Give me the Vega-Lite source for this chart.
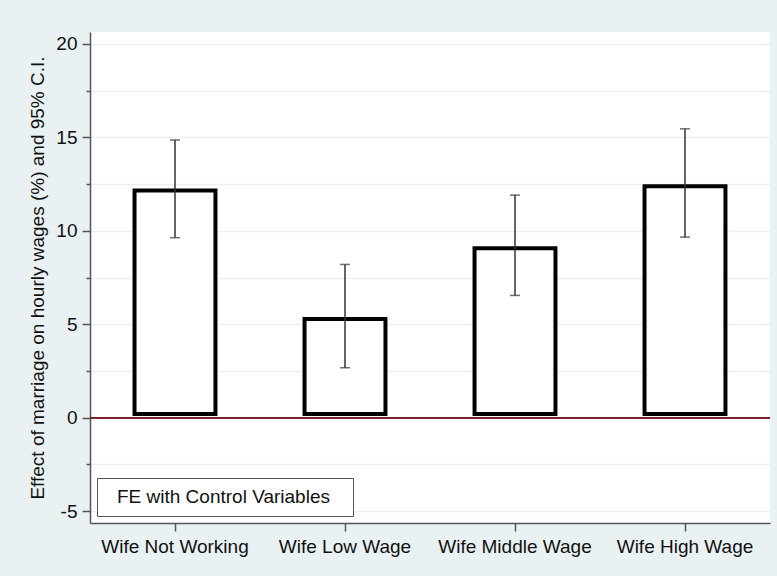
{
  "$schema": "https://vega.github.io/schema/vega-lite/v6.json",
  "autosize": {"type": "none"},
  "width": 680,
  "height": 491,
  "padding": {"left": 90, "top": 32, "right": 7, "bottom": 53},
  "background": "#e9f1f3",
  "config": {
    "font": "Liberation Sans",
    "view": {"fill": "white", "stroke": null},
    "axis": {
      "labelFont": "Liberation Sans",
      "titleFont": "Liberation Sans",
      "labelColor": "#111111",
      "titleColor": "#111111",
      "domainColor": "#555555",
      "domainWidth": 1.5,
      "tickColor": "#555555",
      "tickWidth": 1.5
    },
    "legend": {
      "labelFont": "Liberation Sans",
      "titleFont": "Liberation Sans"
    }
  },
  "data": {
    "values": [
      {"cat": "Wife Not Working", "value": 12.15, "lo": 9.63, "hi": 14.86, "series": "FE with Control Variables"},
      {"cat": "Wife Low Wage", "value": 5.28, "lo": 2.67, "hi": 8.2, "series": "FE with Control Variables"},
      {"cat": "Wife Middle Wage", "value": 9.07, "lo": 6.54, "hi": 11.91, "series": "FE with Control Variables"},
      {"cat": "Wife High Wage", "value": 12.38, "lo": 9.66, "hi": 15.46, "series": "FE with Control Variables"}
    ]
  },
  "encoding": {
    "x": {
      "field": "cat",
      "type": "nominal",
      "sort": null,
      "scale": {"paddingInner": 0, "paddingOuter": 0},
      "axis": {
        "title": null,
        "labelAngle": 0,
        "labelFontSize": 19,
        "labelPadding": 6,
        "tickSize": 8,
        "grid": false
      }
    }
  },
  "layer": [
    {
      "mark": {"type": "rule", "color": "#7a1a26", "strokeWidth": 1.5},
      "encoding": {
        "x": null,
        "y": {
          "datum": 0,
          "type": "quantitative",
          "scale": {"domain": [-5.64, 20.64], "nice": false, "zero": false},
          "axis": {
            "title": "Effect of marriage on hourly wages (%) and 95% C.I.",
            "titleFontSize": 19,
            "titleFontWeight": "normal",
            "titlePadding": 8,
            "values": [-5, -2.5, 0, 2.5, 5, 7.5, 10, 12.5, 15, 17.5, 20],
            "labelExpr": "datum.value % 5 === 0 ? toString(datum.value) : ''",
            "labelFontSize": 19,
            "labelPadding": 5,
            "grid": true,
            "gridColor": "#e9f1f3",
            "gridWidth": 1.5,
            "tickSize": {"condition": {"test": "datum.value % 5 === 0", "value": 8}, "value": 4}
          }
        }
      }
    },
    {
      "mark": {"type": "bar", "fill": "white", "strokeWidth": 4, "width": {"band": 0.476}},
      "encoding": {
        "y": {"field": "value", "type": "quantitative"},
        "y2": {"datum": 0.2},
        "stroke": {
          "field": "series",
          "type": "nominal",
          "scale": {"range": ["black"]},
          "legend": {
            "title": ".",
            "titleOrient": "right",
            "titlePadding": 12,
            "titleFontSize": 4,
            "titleOpacity": 0,
            "orient": "bottom-left",
            "offset": 7,
            "padding": 9,
            "strokeColor": "#555555",
            "fillColor": "white",
            "cornerRadius": 0,
            "symbolOpacity": 0,
            "symbolSize": 1,
            "symbolStrokeWidth": 0,
            "labelOffset": -8,
            "labelFontSize": 19,
            "labelColor": "#111111",
            "labelLimit": 400
          }
        }
      }
    },
    {
      "mark": {"type": "rule", "color": "#333333", "strokeWidth": 1.5},
      "encoding": {
        "y": {"field": "lo", "type": "quantitative"},
        "y2": {"field": "hi"}
      }
    },
    {
      "mark": {"type": "tick", "color": "#333333", "thickness": 1.5, "size": 10},
      "encoding": {"y": {"field": "hi", "type": "quantitative"}}
    },
    {
      "mark": {"type": "tick", "color": "#333333", "thickness": 1.5, "size": 10},
      "encoding": {"y": {"field": "lo", "type": "quantitative"}}
    }
  ]
}
